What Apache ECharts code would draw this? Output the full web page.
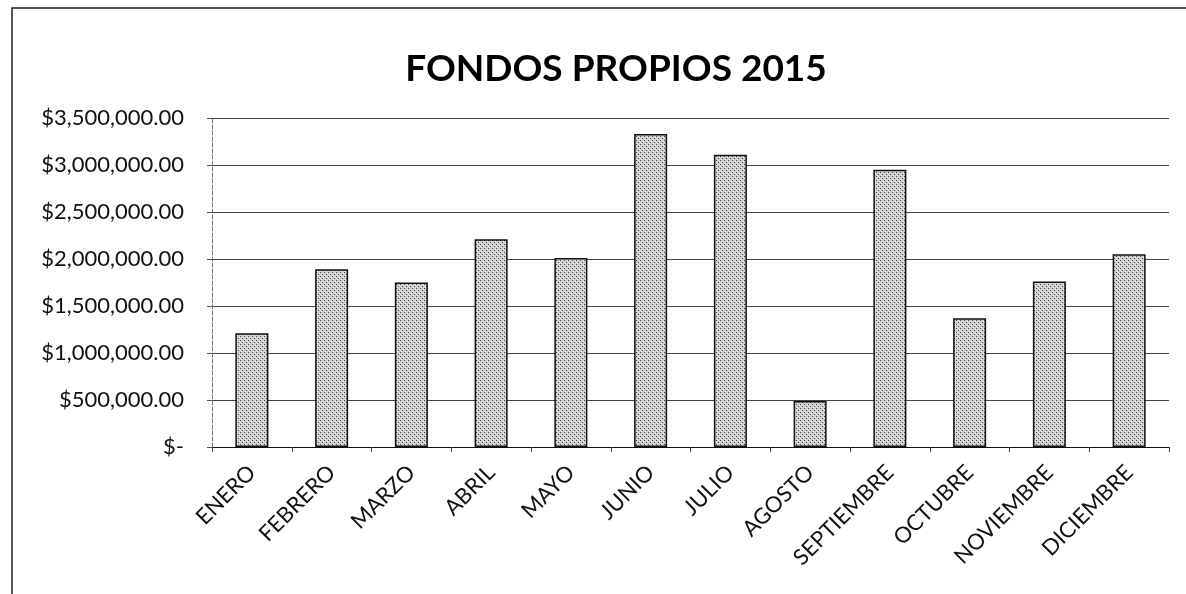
<!DOCTYPE html>
<html>
<head>
<meta charset="utf-8">
<script src="https://cdn.jsdelivr.net/npm/echarts@6/dist/echarts.min.js"></script>
<style>
html, body { margin: 0; padding: 0; background: #fff; }
#chart { width: 1186px; height: 594px; }
</style>
</head>
<body>
<div id="chart"></div>
<script>
var months = ['ENERO', 'FEBRERO', 'MARZO', 'ABRIL', 'MAYO', 'JUNIO', 'JULIO', 'AGOSTO', 'SEPTIEMBRE', 'OCTUBRE', 'NOVIEMBRE', 'DICIEMBRE'];
var fondos = [1210000, 1890000, 1750000, 2210000, 2010000, 3330000, 3110000, 490000, 2950000, 1370000, 1760000, 2050000];
var yTicks = [0, 500000, 1000000, 1500000, 2000000, 2500000, 3000000, 3500000];

//dotted grey fill like the printed excel bars
function dotPattern() {
	var c = document.createElement('canvas');
	c.width = 4;
	c.height = 4;
	var ctx = c.getContext('2d');
	ctx.fillStyle = '#cfcfcf';
	ctx.fillRect(0, 0, 4, 4);
	ctx.fillStyle = '#444';
	ctx.fillRect(0, 0, 1, 1);
	ctx.fillRect(2, 2, 1, 1);
	ctx.fillStyle = '#f0f0f0';
	ctx.fillRect(1, 3, 1, 1);
	ctx.fillRect(3, 1, 1, 1);
	return c;
}

function money(v) {
	if (v === 0) return '$-';
	return '$' + v.toLocaleString('en-US') + '.00';
}

var chart = echarts.init(document.getElementById('chart'));
chart.setOption({
	animation: false,
	title: {
		text: 'FONDOS PROPIOS 2015',
		left: 611,
		top: 46,
		textAlign: 'center',
		textStyle: {
			fontFamily: 'Lato',
			fontWeight: 'bold',
			fontSize: 37,
			color: '#000'
		}
	},
	graphic: [{
		type: 'rect',
		shape: { x: 12, y: 8, width: 1250, height: 650 },
		style: { fill: 'none', stroke: '#222', lineWidth: 1.5 },
		silent: true
	}],
	grid: {
		left: 212,
		right: 17,
		top: 118,
		bottom: 147
	},
	xAxis: {
		type: 'category',
		data: months,
		axisLine: { lineStyle: { color: '#111', width: 1.2 } },
		axisTick: { show: true, length: 5, lineStyle: { color: '#444' } },
		axisLabel: {
			rotate: 45,
			margin: 22,
			fontFamily: 'Lato',
			fontSize: 22,
			color: '#111'
		}
	},
	yAxis: {
		type: 'value',
		min: 0,
		max: 3500000,
		interval: 500000,
		axisLine: { show: true, lineStyle: { color: '#777', type: 'dashed', width: 1 } },
		axisTick: { show: true, length: 5, lineStyle: { color: '#555' } },
		splitLine: { show: true, lineStyle: { color: '#444', width: 1.2 } },
		axisLabel: {
			margin: 28,
			fontFamily: 'Lato',
			fontSize: 22,
			color: '#111',
			formatter: function (v) {
				return yTicks.indexOf(v) >= 0 ? money(v) : '';
			}
		}
	},
	series: [{
		type: 'bar',
		data: fondos,
		barWidth: 33,
		itemStyle: {
			color: { image: dotPattern(), repeat: 'repeat' },
			borderColor: '#111',
			borderWidth: 1.5
		}
	}]
});
</script>
</body>
</html>
